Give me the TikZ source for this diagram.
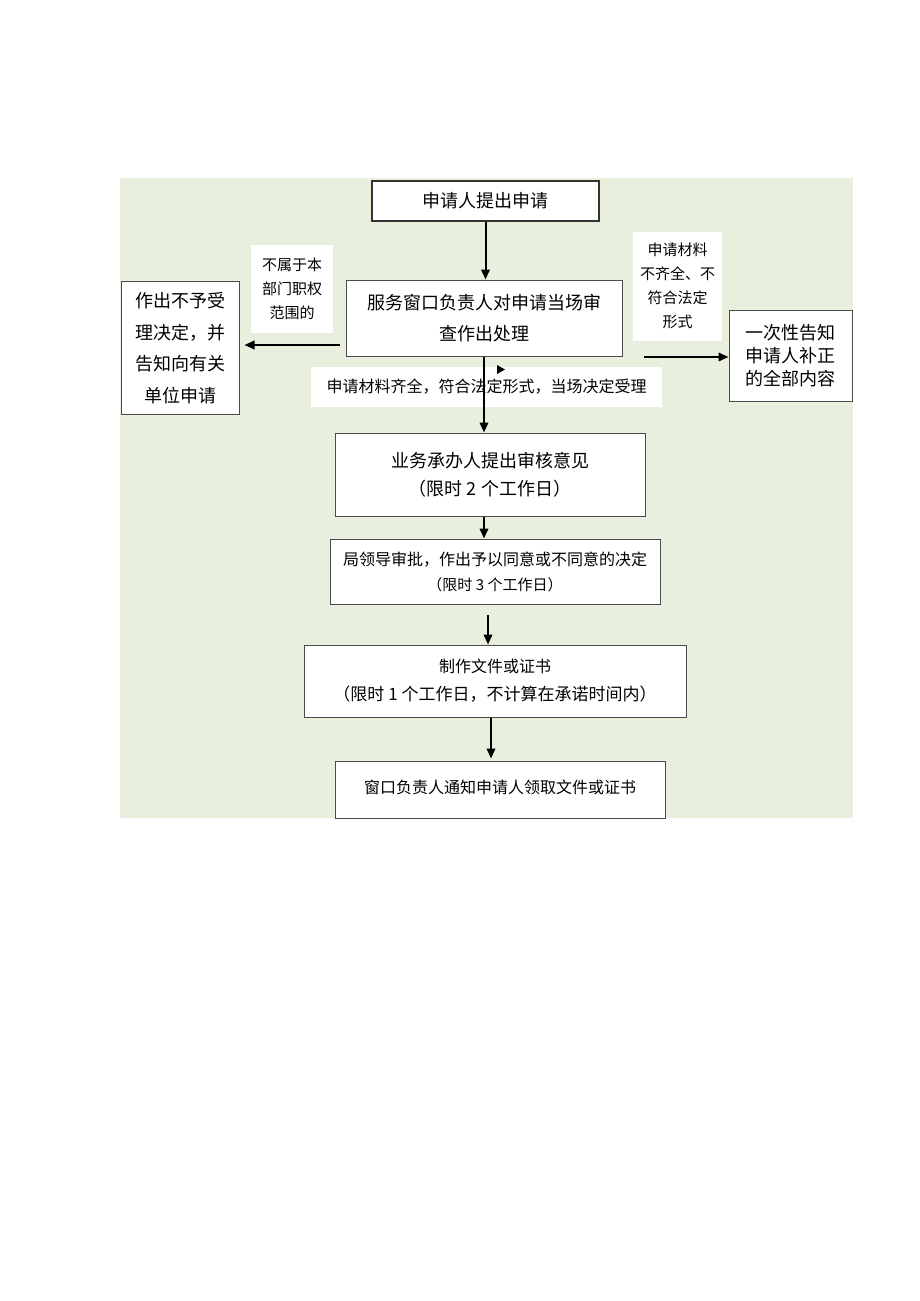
\documentclass[tikz,border=0pt]{standalone}
\usepackage{fontspec}
\setmainfont{Noto Sans CJK SC}
\usetikzlibrary{arrows.meta,calc}
\definecolor{bggreen}{RGB}{233,239,221}
\definecolor{boxline}{RGB}{75,75,75}
\begin{document}
\begin{tikzpicture}[x=1pt,y=-1pt,
  box/.style={draw=boxline, line width=1pt, fill=white, align=center, inner sep=0pt, anchor=center},
  lbl/.style={fill=white, align=center, inner sep=0pt, anchor=center},
  arr/.style={-{Triangle[length=10pt,width=8.5pt]}, line width=2pt, black},
  big/.style={font=\fontsize{18}{31}\selectfont},
  mid/.style={font=\fontsize{16}{25}\selectfont},
  sml/.style={font=\fontsize{15}{24}\selectfont}]
\useasboundingbox (0,0) rectangle (920,1301);
\fill[white] (0,0) rectangle (920,1301);
\fill[bggreen] (120,178) rectangle (853,818);

% main column
\node[box, big, line width=1.6pt, draw=black!80, minimum width=227pt, minimum height=40pt] (n1) at (485.5,201) {申请人提出申请};
\node[box, big, minimum width=276pt, minimum height=76pt] (n2) at (484,318) {服务窗口负责人对申请当场审\\查作出处理};

% left branch
\node[lbl, sml, minimum width=82pt, minimum height=88pt] (ll) at (292,289) {不属于本\\部门职权\\范围的};
\node[box, big, font=\fontsize{18}{31.5}\selectfont, minimum width=118pt, minimum height=133pt] (nl) at (180,348) {作出不予受\\理决定，并\\告知向有关\\单位申请};

% right branch
\node[lbl, sml, minimum width=89pt, minimum height=109pt] (rl) at (677.5,286) {申请材料\\不齐全、不\\符合法定\\形式};
\node[box, font=\fontsize{18}{23}\selectfont, minimum width=123pt, minimum height=91pt] (nr) at (790.5,355.5) {一次性告知\\申请人补正\\的全部内容};

% middle label
\node[lbl, mid, minimum width=351pt, minimum height=40pt] (ml) at (486.5,387) {申请材料齐全，符合法定形式，当场决定受理};
\fill[black] (497,365) -- (505,369.5) -- (497,374) -- cycle;

\node[box, big, font=\fontsize{18}{28}\selectfont, minimum width=310pt, minimum height=83pt] (n3) at (490,474.5) {业务承办人提出审核意见\\（限时 2 个工作日）};
\node[box, minimum width=330pt, minimum height=65pt, font=\fontsize{16}{25}\selectfont] (n4) at (495,571.5) {局领导审批，作出予以同意或不同意的决定\\{\fontsize{15}{25}\selectfont（限时 3 个工作日）}};
\node[box, minimum width=382pt, minimum height=72pt, font=\fontsize{16}{28}\selectfont] (n5) at (495,681) {制作文件或证书\\{\fontsize{17}{28}\selectfont（限时 1 个工作日，不计算在承诺时间内）}};
\node[box, mid, minimum width=330pt, minimum height=57pt, text height=14pt, text depth=7pt] (n6) at (500,789.5) {窗口负责人通知申请人领取文件或证书};

% connector end points
\coordinate (lstart) at ($(n2.west)+(-6,27)$);
\coordinate (rstart) at ($(n2.east)+(21,39)$);
\coordinate (a4) at ($(n4.south)+(-7,10)$);
\coordinate (a5) at ($(n5.south)+(-4,0)$);

% connectors
\draw[arr] (n1.south) -- (n1.south |- n2.north);
\draw[arr] (n2.south) -- (n2.south |- n3.north);
\draw[arr] (lstart) -- ([xshift=5pt]lstart -| nl.east);
\draw[arr] (rstart) -- (rstart -| nr.west);
\draw[arr] (n2.south |- n3.south) -- (n2.south |- n4.north);
\draw[arr] (a4) -- (a4 |- n5.north);
\draw[arr] (a5) -- ([yshift=2pt]a5 |- n6.north);
\end{tikzpicture}
\end{document}
